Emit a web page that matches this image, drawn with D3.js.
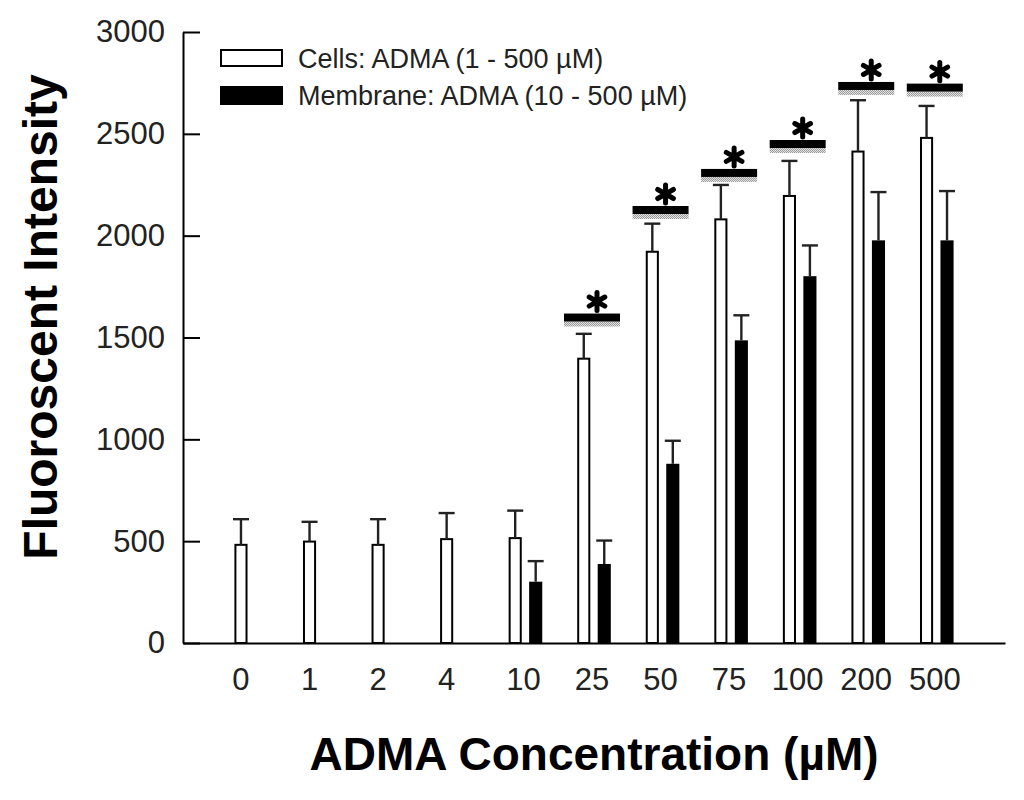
<!DOCTYPE html>
<html>
<head>
<meta charset="utf-8">
<script src="https://cdn.jsdelivr.net/npm/d3@7"></script>
<style>
  html, body { margin: 0; padding: 0; background: #fff; }
  svg { display: block; font-family: "Liberation Sans", Arial, sans-serif; }
</style>
</head>
<body>
<script>
const WIDTH = 1024;
const HEIGHT = 800;

// ADMA concentrations (µM)
const concentrations = ['0', '1', '2', '4', '10', '25', '50', '75', '100', '200', '500'];

// cells: mean and SEM
const cellsMean = [482, 498, 482, 510, 515, 1396, 1921, 2080, 2195, 2413, 2480];
const cellsErr = [126, 97, 126, 128, 135, 122, 138, 169, 172, 252, 157];

// membrane: mean and SEM (not measured below 10 µM)
const membraneMean = [null, null, null, null, 301, 388, 880, 1486, 1801, 1977, 1977];
const membraneErr = [null, null, null, null, 101, 115, 113, 123, 151, 237, 242];

// significance markers: which concentration and at what level
const sigConcentrations = ['25', '50', '75', '100', '200', '500'];
const sigLevels = [1598, 2126, 2308, 2450, 2735, 2727];

const yTicks = [0, 500, 1000, 1500, 2000, 2500, 3000];

const seriesNames = ['Cells: ADMA (1 - 500 µM)', 'Membrane: ADMA (10 - 500 µM)'];

const margin = { top: 32, right: 19, bottom: 157, left: 183 };

function main() {
    const svg = d3.select('body').append('svg')
        .attr('width', WIDTH)
        .attr('height', HEIGHT)
        .attr('viewBox', [0, 0, WIDTH, HEIGHT]);

    const defs = svg.append('defs');
    const pat = defs.append('pattern')
        .attr('id', 'dots')
        .attr('patternUnits', 'userSpaceOnUse')
        .attr('width', 2)
        .attr('height', 2);
    pat.append('rect').attr('width', 2).attr('height', 2).attr('fill', '#e4e4e4');
    pat.append('rect').attr('width', 1).attr('height', 1).attr('fill', '#9a9a9a');
    pat.append('rect').attr('x', 1).attr('y', 1).attr('width', 1).attr('height', 1).attr('fill', '#9a9a9a');

    const data = concentrations.map((c, i) => ({
        conc: c,
        cells: cellsMean[i],
        cellsErr: cellsErr[i],
        membrane: membraneMean[i],
        membraneErr: membraneErr[i],
    }));

    const x = d3.scaleBand()
        .domain(concentrations)
        .range([margin.left, WIDTH - margin.right])
        .paddingInner(0.51)
        .paddingOuter(0.75);

    const xSub = d3.scaleBand()
        .domain(['cells', 'membrane'])
        .range([0, x.bandwidth()])
        .paddingInner(0.36);

    const y = d3.scaleLinear()
        .domain([0, 3000])
        .range([HEIGHT - margin.bottom, margin.top]);

    drawBars(svg, data, x, xSub, y);
    drawSignificance(svg, x, xSub, y);
    drawAxes(svg, data, x, xSub, y);
    drawLegend(svg);
}

function drawBars(svg, data, x, xSub, y) {
    const bw = xSub.bandwidth();
    const capW = 16;

    svg.append('g').selectAll('rect')
        .data(data)
        .join('rect')
            .attr('x', d => x(d.conc) + xSub('cells') + 1)
            .attr('y', d => y(d.cells))
            .attr('width', bw - 2)
            .attr('height', d => y(0) - y(d.cells))
            .attr('fill', '#fff')
            .attr('stroke', '#000')
            .attr('stroke-width', 2);

    const memData = data.filter(d => d.membrane != null);
    svg.append('g').selectAll('rect')
        .data(memData)
        .join('rect')
            .attr('x', d => x(d.conc) + xSub('membrane'))
            .attr('y', d => y(d.membrane))
            .attr('width', bw)
            .attr('height', d => y(0) - y(d.membrane))
            .attr('fill', '#000');

    const errs = [
        ...data.map(d => ({ cx: x(d.conc) + xSub('cells') + bw / 2, v: d.cells, e: d.cellsErr })),
        ...memData.map(d => ({ cx: x(d.conc) + xSub('membrane') + bw / 2, v: d.membrane, e: d.membraneErr })),
    ];

    const eg = svg.append('g')
        .attr('stroke', '#222')
        .attr('stroke-width', 2.4);
    eg.selectAll('line.stem')
        .data(errs)
        .join('line')
            .attr('class', 'stem')
            .attr('x1', d => d.cx).attr('x2', d => d.cx)
            .attr('y1', d => y(d.v)).attr('y2', d => y(d.v + d.e));
    eg.selectAll('line.cap')
        .data(errs)
        .join('line')
            .attr('class', 'cap')
            .attr('x1', d => d.cx - capW / 2).attr('x2', d => d.cx + capW / 2)
            .attr('y1', d => y(d.v + d.e)).attr('y2', d => y(d.v + d.e));
}

function drawSignificance(svg, x, xSub, y) {
    const sig = sigConcentrations.map((c, i) => ({ conc: c, level: sigLevels[i] }));
    const barW = 56;
    const center = d => x(d.conc) + x.bandwidth() / 2 - 2;

    const g = svg.append('g');
    g.selectAll('rect.gray')
        .data(sig)
        .join('rect')
            .attr('class', 'gray')
            .attr('x', d => center(d) - barW / 2)
            .attr('y', d => y(d.level) + 4)
            .attr('width', barW)
            .attr('height', 5)
            .attr('fill', 'url(#dots)');
    g.selectAll('rect.black')
        .data(sig)
        .join('rect')
            .attr('class', 'black')
            .attr('x', d => center(d) - barW / 2)
            .attr('y', d => y(d.level) - 4)
            .attr('width', barW)
            .attr('height', 8)
            .attr('fill', '#000');

    const star = d3.symbol().type(d3.symbolAsterisk).size(230);
    g.selectAll('path.star')
        .data(sig)
        .join('path')
            .attr('class', 'star')
            .attr('transform', d => `translate(${center(d) + 5},${y(d.level) - 16})`)
            .attr('d', star)
            .attr('fill', 'none')
            .attr('stroke', '#000')
            .attr('stroke-width', 5)
            .attr('stroke-linecap', 'round');
}

function drawAxes(svg, data, x, xSub, y) {
    const yAxis = d3.axisLeft(y)
        .tickValues(yTicks)
        .tickFormat(d3.format('d'))
        .tickSizeInner(-17)
        .tickSizeOuter(0)
        .tickPadding(18);

    const ya = svg.append('g')
        .attr('transform', `translate(${margin.left},0)`)
        .call(yAxis);
    ya.selectAll('path, line').attr('stroke', '#000').attr('stroke-width', 2);
    ya.selectAll('text')
        .attr('font-size', 31)
        .attr('fill', '#222')
        .attr('font-family', '"Liberation Sans", Arial, sans-serif');

    const xAxis = d3.axisBottom(x).tickValues([]).tickSizeOuter(0);
    const xa = svg.append('g')
        .attr('transform', `translate(0,${y(0)})`)
        .call(xAxis);
    xa.select('path').attr('stroke', '#000').attr('stroke-width', 2);

    // labels sit under the visible bars of each group
    const bw = xSub.bandwidth();
    svg.append('g')
            .attr('font-size', 31)
            .attr('fill', '#222')
            .attr('text-anchor', 'middle')
        .selectAll('text')
        .data(data)
        .join('text')
            .attr('x', d => d.membrane != null
                ? x(d.conc) + x.bandwidth() / 2 - 2
                : x(d.conc) + xSub('cells') + bw / 2)
            .attr('y', y(0) + 47)
            .text(d => d.conc);

    svg.append('text')
        .attr('transform', 'translate(57,317) rotate(-90)')
        .attr('text-anchor', 'middle')
        .attr('font-size', 48)
        .attr('font-weight', 'bold')
        .attr('fill', '#000')
        .text('Fluoroscent Intensity');

    svg.append('text')
        .attr('x', 594)
        .attr('y', 770)
        .attr('text-anchor', 'middle')
        .attr('font-size', 46)
        .attr('font-weight', 'bold')
        .attr('fill', '#000')
        .text('ADMA Concentration (µM)');
}

function drawLegend(svg) {
    const rows = seriesNames.map((name, i) => ({ name, i }));
    const g = svg.append('g').attr('transform', 'translate(220,49)');
    const item = g.selectAll('g')
        .data(rows)
        .join('g')
            .attr('transform', d => `translate(0,${d.i * 37})`);
    item.append('rect')
        .attr('x', d => d.i === 0 ? 1 : 0)
        .attr('y', d => d.i === 0 ? 1 : 0)
        .attr('width', d => d.i === 0 ? 61 : 63)
        .attr('height', d => d.i === 0 ? 16 : 19)
        .attr('fill', d => d.i === 0 ? '#fff' : '#000')
        .attr('stroke', d => d.i === 0 ? '#000' : 'none')
        .attr('stroke-width', 2);
    item.append('text')
        .attr('x', 78)
        .attr('y', 19)
        .attr('font-size', 27)
        .attr('fill', '#222')
        .text(d => d.name);
}

main();
</script>
</body>
</html>
